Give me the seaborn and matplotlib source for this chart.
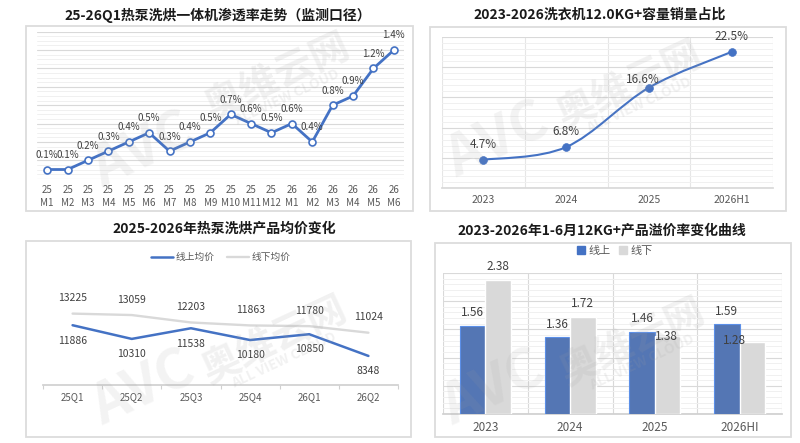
import numpy as np
import pandas as pd
import seaborn as sns
import matplotlib.pyplot as plt
from matplotlib.patches import Rectangle, PathPatch, Patch
from matplotlib.path import Path

# penetration of heat-pump washer-dryers, monthly (%)
months = ['25\nM1', '25\nM2', '25\nM3', '25\nM4', '25\nM5', '25\nM6', '25\nM7', '25\nM8', '25\nM9',
          '25\nM10', '25\nM11', '25\nM12', '26\nM1', '26\nM2', '26\nM3', '26\nM4', '26\nM5', '26\nM6']
penetration = [0.1, 0.1, 0.2, 0.3, 0.4, 0.5, 0.3, 0.4, 0.5, 0.7, 0.6, 0.5, 0.6, 0.4, 0.8, 0.9, 1.2, 1.4]

# 12.0KG+ share of washer sales (%)
share_years = ['2023', '2024', '2025', '2026H1']
share_12kg = [4.7, 6.8, 16.6, 22.5]

# average price online / offline
quarters = ['25Q1', '25Q2', '25Q3', '25Q4', '26Q1', '26Q2']
price_online = [11886, 10310, 11538, 10180, 10850, 8348]
price_offline = [13225, 13059, 12203, 11863, 11780, 11024]

# premium rate of 12KG+ products
premium_years = ['2023', '2024', '2025', '2026HI']
premium_online = [1.56, 1.36, 1.46, 1.59]
premium_offline = [2.38, 1.72, 1.38, 1.28]

sns.set_theme(style='white')
plt.rcParams['font.family'] = ['Noto Sans CJK SC', 'DejaVu Sans']

BLUE = '#4472C4'
GREY = '#D9D9D9'
TXT = '#404040'
TICK = '#595959'
W, H = 800, 443

fig = plt.figure(figsize=(8, 4.43), dpi=100)


def box(x0, y0, x1, y1):
    return [x0 / W, 1 - y1 / H, (x1 - x0) / W, (y1 - y0) / H]


def fxy(x, y):
    return (x / W, 1 - y / H)


def frame(x0, y0, x1, y1):
    fig.add_artist(Rectangle(fxy(x0, y1), (x1 - x0) / W, (y1 - y0) / H, transform=fig.transFigure,
                             fill=False, ec='#dcdcdc', lw=1.3))


def title(x, y, s):
    fig.text(*fxy(x, y), s, ha='center', va='center', fontsize=10, fontweight='bold', color='#1a1a1a')


def watermark(avc, cn):
    fig.text(*fxy(*avc), 'AVC', ha='center', va='center', fontsize=40, fontweight='bold', style='italic',
             rotation=25, color='#a0a0a0', alpha=0.12, zorder=10)
    fig.text(*fxy(*cn), '奥维云网', ha='center', va='center', fontsize=28, fontweight='bold',
             rotation=25, color='#a0a0a0', alpha=0.14, zorder=10)
    fig.text(*fxy(cn[0] + 9, cn[1] + 20), 'ALL VIEW CLOUD', ha='center', va='center', fontsize=10,
             fontweight='bold', rotation=25, color='#a0a0a0', alpha=0.14, zorder=10)


def clean(ax):
    for s in ['top', 'left', 'right']:
        ax.spines[s].set_visible(False)
    ax.set_facecolor('none')
    ax.set_xlabel('')
    ax.set_ylabel('')


# ---------------- top left ----------------
frame(26, 26, 413, 211)
title(218, 15, '25-26Q1热泵洗烘一体机渗透率走势（监测口径）')
ax1 = fig.add_axes(box(37, 31.7, 404, 178.7))
x1 = np.arange(len(penetration))
sns.lineplot(x=x1, y=penetration, ax=ax1, color=BLUE, lw=2, marker='o', markersize=5,
             markerfacecolor='white', markeredgecolor=BLUE, markeredgewidth=1.2, zorder=3)
ax1.set_xlim(-0.5, len(penetration) - 0.5)
ax1.set_ylim(0, 1.6)
ax1.set_yticks(np.arange(0, 1.61, 0.2))
ax1.set_yticks(np.arange(0, 1.61, 0.05), minor=True)
ax1.grid(axis='y', which='minor', color='#f0f0f0', lw=0.7)
ax1.grid(axis='y', which='major', color='#d9d9d9', lw=0.8)
ax1.set_yticklabels([])
ax1.tick_params(axis='y', which='both', length=0)
ax1.set_xticks(x1)
ax1.set_xticklabels(months, fontsize=7, color=TICK, linespacing=1.35)
ax1.tick_params(axis='x', length=0, pad=4.5)
clean(ax1)
ax1.spines['bottom'].set_visible(False)
for i, v in enumerate(penetration):
    ax1.annotate(f'{v:.1f}%', (i, v), xytext=(0, 10.5), textcoords='offset points',
                 ha='center', va='center', fontsize=7, color=TXT)

# ---------------- top right ----------------
frame(430, 27, 786, 211)
title(600, 15, '2023-2026洗衣机12.0KG+容量销量占比')
ax2 = fig.add_axes(box(442, 36.7, 773, 188.3))
x2 = np.arange(len(share_12kg))
# smooth line like the spreadsheet "smoothed line" (Catmull-Rom bezier)
pts = np.column_stack([x2, share_12kg]).astype(float)
ext = np.vstack([pts[0], pts, pts[-1]])
verts = [tuple(pts[0])]
codes = [Path.MOVETO]
for i in range(len(pts) - 1):
    p0, p1, p2, p3 = ext[i], ext[i + 1], ext[i + 2], ext[i + 3]
    verts += [tuple(p1 + (p2 - p0) / 6), tuple(p2 - (p3 - p1) / 6), tuple(p2)]
    codes += [Path.CURVE4] * 3
ax2.add_patch(PathPatch(Path(verts, codes), fc='none', ec=BLUE, lw=1.5, zorder=3))
sns.scatterplot(x=x2, y=share_12kg, ax=ax2, color=BLUE, s=32, edgecolor=BLUE, zorder=4)
ax2.set_xlim(-0.5, 3.5)
ax2.set_ylim(0, 25)
ax2.set_yticks(np.arange(0, 26, 5))
ax2.set_yticks(np.arange(0, 26, 1), minor=True)
ax2.set_xticks(np.arange(-0.5, 3.6, 1), minor=True)
ax2.grid(axis='y', which='minor', color='#f0f0f0', lw=0.7)
ax2.grid(axis='y', which='major', color='#d9d9d9', lw=0.8)
ax2.grid(axis='x', which='minor', color='#e6e6e6', lw=0.8)
ax2.set_yticklabels([])
ax2.tick_params(axis='both', which='both', length=0)
ax2.set_xticks(x2)
ax2.set_xticklabels(share_years, fontsize=7.5, color=TICK)
ax2.tick_params(axis='x', pad=5)
clean(ax2)
ax2.spines['bottom'].set_color('#d9d9d9')
for i, v in enumerate(share_12kg):
    off = (-4.3, 6) if i == 2 else (0, 11)
    ax2.annotate(f'{v:.1f}%', (i, v), xytext=off, textcoords='offset points',
                 ha='center', va='center', fontsize=8.5, color=TXT)

# ---------------- bottom left ----------------
frame(26, 241, 411, 437)
title(224, 229, '2025-2026年热泵洗烘产品均价变化')
ax3 = fig.add_axes(box(43, 265, 398, 385))
x3 = np.arange(len(quarters))
sns.lineplot(x=x3, y=price_offline, ax=ax3, color=GREY, lw=1.7, label='线下均价', zorder=2)
sns.lineplot(x=x3, y=price_online, ax=ax3, color=BLUE, lw=1.8, label='线上均价', zorder=3)
ax3.set_xlim(-0.5, 5.5)
ax3.set_ylim(5000, 18824)
ax3.set_yticks([])
ax3.set_xticks(x3)
ax3.set_xticklabels(quarters, fontsize=7, color=TICK)
ax3.set_xticks(np.arange(-0.5, 5.6, 1), minor=True)
ax3.tick_params(axis='x', which='major', length=0, pad=5)
ax3.tick_params(axis='x', which='minor', length=3, color='#d0d0d0', width=0.8, direction='out', bottom=True)
clean(ax3)
ax3.spines['bottom'].set_color('#d0d0d0')
h, l = ax3.get_legend_handles_labels()
ax3.legend(h[::-1], l[::-1], ncol=2, loc='center', bbox_to_anchor=fxy(221, 257),
           bbox_transform=fig.transFigure, frameon=False, fontsize=7, handlelength=2.2,
           handletextpad=0.3, columnspacing=1.3, labelcolor=TICK)
for i in range(len(quarters)):
    ax3.annotate(f'{price_offline[i]}', (i, price_offline[i]), xytext=(0, 11), textcoords='offset points',
                 ha='center', va='center', fontsize=7.5, color=TXT)
    ax3.annotate(f'{price_online[i]}', (i, price_online[i]), xytext=(0, -11), textcoords='offset points',
                 ha='center', va='center', fontsize=7.5, color=TXT)

# ---------------- bottom right ----------------
frame(435, 243, 791, 437)
title(602, 231, '2023-2026年1-6月12KG+产品溢价率变化曲线')
ax4 = fig.add_axes(box(443, 273, 782, 414))
df = pd.DataFrame({
    'year': premium_years * 2,
    'channel': ['线上'] * len(premium_years) + ['线下'] * len(premium_years),
    'value': premium_online + premium_offline,
})
sns.barplot(data=df, x='year', y='value', hue='channel', palette=[BLUE, GREY], width=0.6,
            ax=ax4, legend=False, zorder=3)
for bar in ax4.containers[0]:
    bar.set_edgecolor('#5b8fe8')
    bar.set_linewidth(0.8)
ax4.set_xlim(-0.5, 3.5)
ax4.set_ylim(0, 2.5)
ax4.set_yticks(np.arange(0, 2.51, 0.5))
ax4.set_yticks(np.arange(0, 2.51, 0.1), minor=True)
ax4.set_xticks(np.arange(-0.5, 3.6, 1), minor=True)
ax4.grid(axis='y', which='minor', color='#f0f0f0', lw=0.7)
ax4.grid(axis='y', which='major', color='#d9d9d9', lw=0.8)
ax4.grid(axis='x', which='minor', color='#d9d9d9', lw=0.8)
ax4.set_yticklabels([])
ax4.tick_params(axis='both', which='both', length=0)
ax4.tick_params(axis='x', which='major', pad=5, labelsize=8.5, labelcolor=TICK)
clean(ax4)
ax4.spines['bottom'].set_color('#d0d0d0')
ax4.legend(handles=[Patch(color=BLUE), Patch(color=GREY)], labels=['线上', '线下'], ncol=2, loc='center',
           bbox_to_anchor=fxy(615, 251), bbox_transform=fig.transFigure, frameon=False, fontsize=8,
           handlelength=0.7, handleheight=0.7, handletextpad=0.3, columnspacing=0.8, labelcolor=TICK)
offsets = [[(0, 9.4)] * 4, [(0, 9.4), (0, 9.4), (-0.7, 0), (-13, 0.7)]]
for c, cont in enumerate(ax4.containers):
    for j, bar in enumerate(cont):
        ax4.annotate(f'{bar.get_height():.2f}', (bar.get_x() + bar.get_width() / 2, bar.get_height()),
                     xytext=offsets[c][j], textcoords='offset points', ha='center', va='center',
                     fontsize=8.5, color=TXT, zorder=5)

# watermarks
watermark((143, 150), (278, 77))
watermark((497, 140), (630, 85))
watermark((143, 388), (275, 340))
watermark((493, 388), (633, 342))

fig.savefig('out.png', dpi=100)
